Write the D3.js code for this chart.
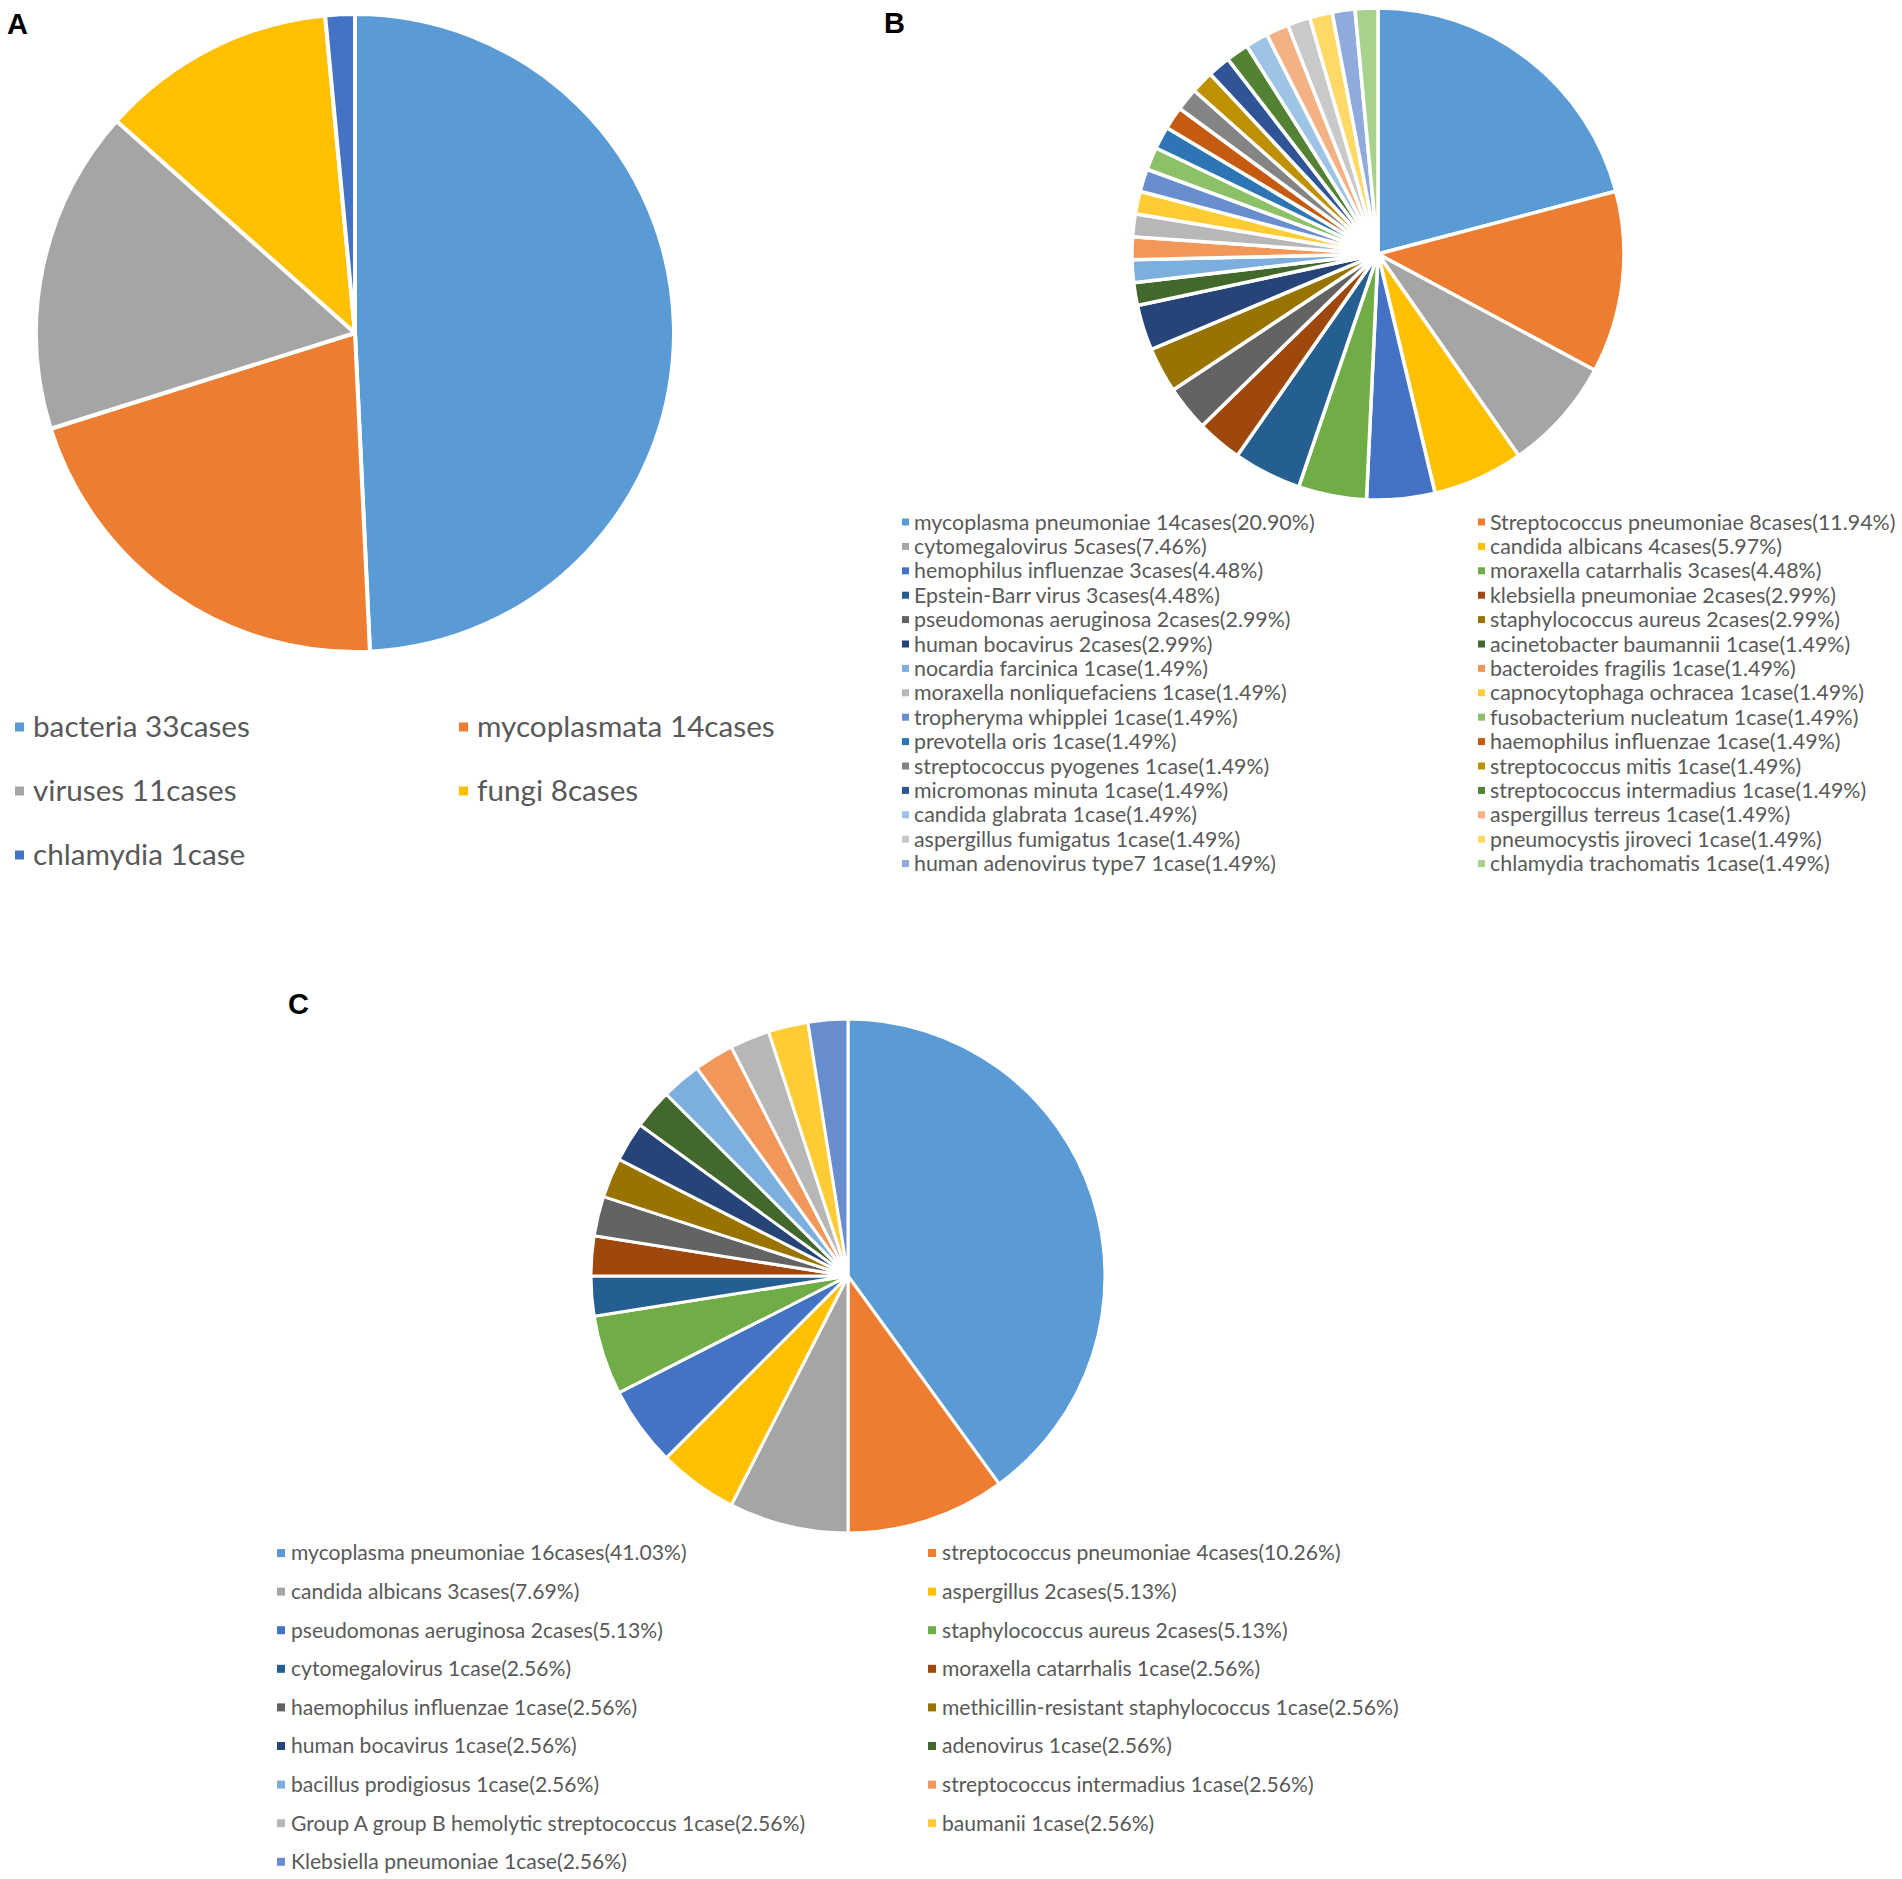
<!DOCTYPE html>
<html>
<head>
<meta charset="utf-8">
<script src="https://cdn.jsdelivr.net/npm/d3@7"></script>
<style>
  body { margin: 0; background: #fff; }
  .panel-label { font-family: "Liberation Sans", Arial, sans-serif; font-weight: bold; fill: #000; }
  .legend text { font-family: Lato, "Open Sans", sans-serif; fill: #595959; }
</style>
</head>
<body>
<svg id="chart"></svg>
<script>
// excel default series colours (30)
var palette = ["#5B9BD5", "#ED7D31", "#A5A5A5", "#FFC000", "#4472C4", "#70AD47",
  "#255E91", "#9E480E", "#636363", "#997300", "#264478", "#43682B",
  "#7CAFDD", "#F1975A", "#B7B7B7", "#FFCD33", "#698ED0", "#8CC168",
  "#2E75B6", "#C55A11", "#848484", "#BF9000", "#2F5597", "#548235",
  "#9DC3E6", "#F4B183", "#C9C9C9", "#FFD966", "#8FAADC", "#A9D18E"];

// panel A
var namesA = ["bacteria", "mycoplasmata", "viruses", "fungi", "chlamydia"];
var valuesA = [33, 14, 11, 8, 1];

// panel B
var namesB = ["mycoplasma pneumoniae", "Streptococcus pneumoniae", "cytomegalovirus", "candida albicans",
  "hemophilus influenzae", "moraxella catarrhalis", "Epstein-Barr virus", "klebsiella pneumoniae",
  "pseudomonas aeruginosa", "staphylococcus aureus", "human bocavirus", "acinetobacter baumannii",
  "nocardia farcinica", "bacteroides fragilis", "moraxella nonliquefaciens", "capnocytophaga ochracea",
  "tropheryma whipplei", "fusobacterium nucleatum", "prevotella oris", "haemophilus influenzae",
  "streptococcus pyogenes", "streptococcus mitis", "micromonas minuta", "streptococcus intermadius",
  "candida glabrata", "aspergillus terreus", "aspergillus fumigatus", "pneumocystis jiroveci",
  "human adenovirus type7", "chlamydia trachomatis"];
var valuesB = [14, 8, 5, 4, 3, 3, 3, 2, 2, 2, 2, 1, 1, 1, 1, 1, 1, 1, 1, 1, 1, 1, 1, 1, 1, 1, 1, 1, 1, 1];
var pctB = ["20.90%", "11.94%", "7.46%", "5.97%", "4.48%", "4.48%", "4.48%", "2.99%", "2.99%", "2.99%",
  "2.99%", "1.49%", "1.49%", "1.49%", "1.49%", "1.49%", "1.49%", "1.49%", "1.49%", "1.49%",
  "1.49%", "1.49%", "1.49%", "1.49%", "1.49%", "1.49%", "1.49%", "1.49%", "1.49%", "1.49%"];

// panel C
var namesC = ["mycoplasma pneumoniae", "streptococcus pneumoniae", "candida albicans", "aspergillus",
  "pseudomonas aeruginosa", "staphylococcus aureus", "cytomegalovirus", "moraxella catarrhalis",
  "haemophilus influenzae", "methicillin-resistant staphylococcus", "human bocavirus", "adenovirus",
  "bacillus prodigiosus", "streptococcus intermadius", "Group A group B hemolytic streptococcus",
  "baumanii", "Klebsiella pneumoniae"];
var valuesC = [16, 4, 3, 2, 2, 2, 1, 1, 1, 1, 1, 1, 1, 1, 1, 1, 1];
var pctC = ["41.03%", "10.26%", "7.69%", "5.13%", "5.13%", "5.13%", "2.56%", "2.56%", "2.56%",
  "2.56%", "2.56%", "2.56%", "2.56%", "2.56%", "2.56%", "2.56%", "2.56%"];

var W = 1902, H = 1879;
var svg = d3.select("#chart").attr("width", W).attr("height", H);

function caseWord(v) { return v + (v > 1 ? "cases" : "case"); }

function drawPie(values, cx, cy, r, strokeW) {
  var pie = d3.pie().sort(null).value(function(d) { return d; });
  var arc = d3.arc().innerRadius(0).outerRadius(r);
  var g = svg.append("g").attr("transform", "translate(" + cx + "," + cy + ")");
  g.selectAll("path")
    .data(pie(values))
    .enter().append("path")
      .attr("d", arc)
      .attr("fill", function(d, i) { return palette[i]; })
      .attr("stroke", "#fff")
      .attr("stroke-width", strokeW)
      .attr("stroke-linejoin", "round");
}

// legend laid out row by row in two columns
function drawLegend(labels, opt) {
  var rows = Math.ceil(labels.length / 2);
  var y = d3.scaleLinear().domain([0, rows - 1]).range([opt.y0, opt.y0 + opt.step * (rows - 1)]);
  var g = svg.append("g").attr("class", "legend");
  var items = g.selectAll(".item")
    .data(labels)
    .enter().append("g")
      .attr("class", "item")
      .attr("transform", function(d, i) {
        return "translate(" + opt.cols[i % 2] + "," + y(Math.floor(i / 2)) + ")";
      });
  items.append("rect")
    .attr("x", -opt.gap - opt.box)
    .attr("y", -opt.box / 2)
    .attr("width", opt.box)
    .attr("height", opt.box)
    .attr("fill", function(d, i) { return palette[i]; });
  var txt = items.append("text")
    .attr("dy", "0.35em")
    .style("font-size", "20px")
    .text(function(d) { return d; });
  // size the font so the first label has the width it has in the figure
  var w = txt.node().getComputedTextLength();
  txt.style("font-size", (20 * opt.firstWidth / w) + "px");
}

// A
drawPie(valuesA, 355, 333, 319, 4);
drawLegend(namesA.map(function(n, i) { return n + " " + caseWord(valuesA[i]); }),
  {cols: [33, 477], y0: 727, step: 64, box: 9, gap: 9, firstWidth: 217});

// B
drawPie(valuesB, 1378, 254, 246, 3.5);
drawLegend(namesB.map(function(n, i) { return n + " " + caseWord(valuesB[i]) + "(" + pctB[i] + ")"; }),
  {cols: [914, 1490], y0: 522, step: 24.4, box: 7, gap: 5, firstWidth: 401});

// C
drawPie(valuesC, 848, 1276, 257, 3);
drawLegend(namesC.map(function(n, i) { return n + " " + caseWord(valuesC[i]) + "(" + pctC[i] + ")"; }),
  {cols: [291, 942], y0: 1553, step: 38.6, box: 8, gap: 6, firstWidth: 396});

// panel letters
svg.selectAll(".panel-label")
  .data([["A", 7, 34], ["B", 884, 33], ["C", 288, 1014]])
  .enter().append("text")
    .attr("class", "panel-label")
    .attr("x", function(d) { return d[1]; })
    .attr("y", function(d) { return d[2]; })
    .style("font-size", "29px")
    .text(function(d) { return d[0]; });
</script>
</body>
</html>
